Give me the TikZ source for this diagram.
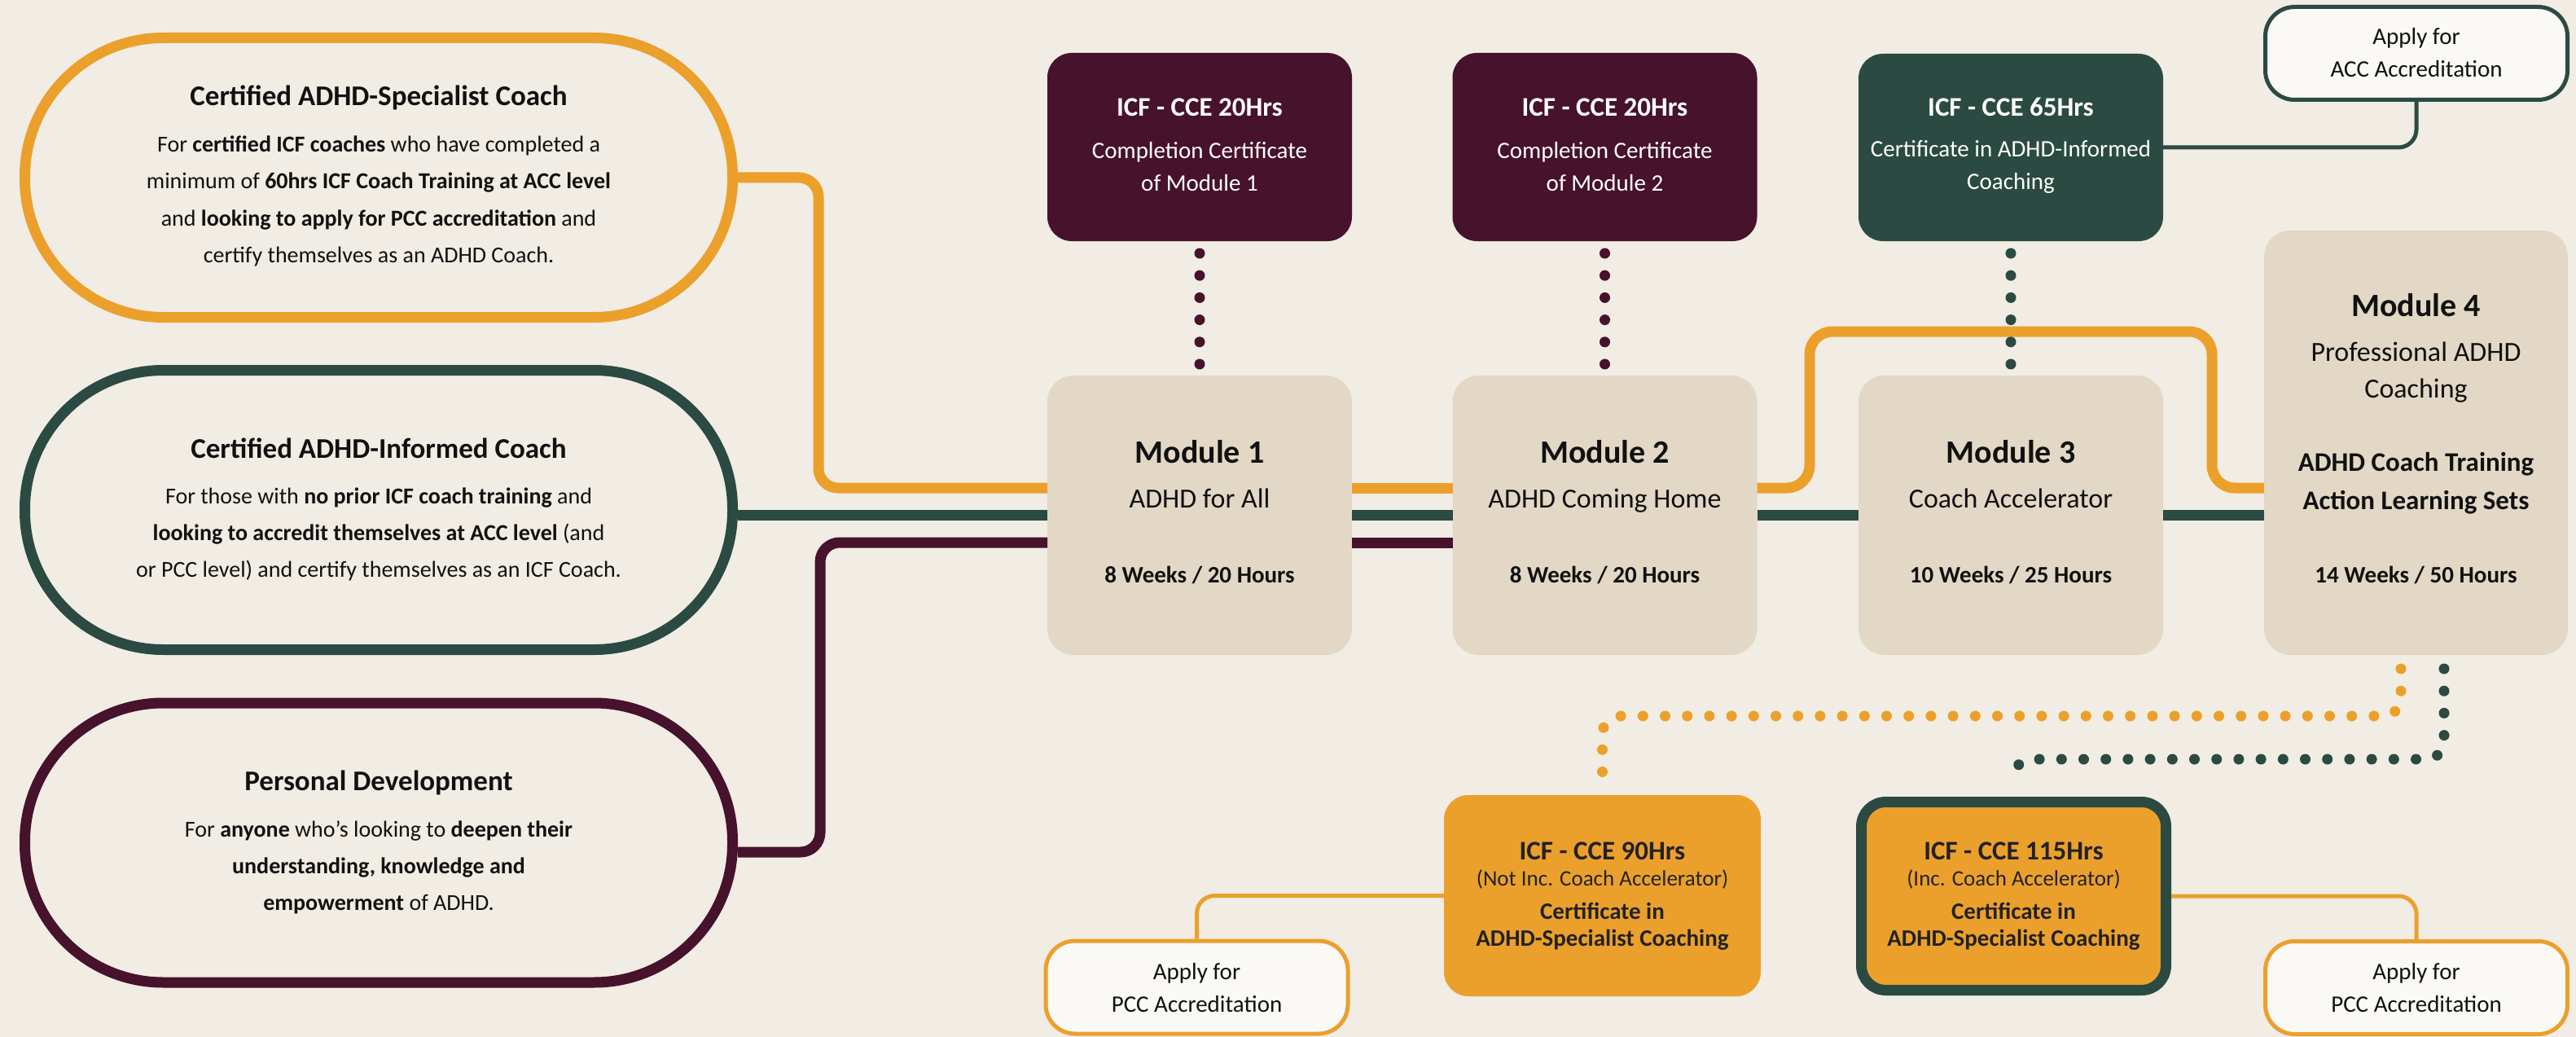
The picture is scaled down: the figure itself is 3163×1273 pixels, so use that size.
\documentclass[tikz,border=0pt]{standalone}
\usepackage{fontspec}
\setmainfont{Carlito}
\usetikzlibrary{calc}
\definecolor{bgc}{HTML}{F1ECE4}
\definecolor{org}{HTML}{EBA02C}
\definecolor{grn}{HTML}{2B4A42}
\definecolor{mar}{HTML}{47122B}
\definecolor{modc}{HTML}{E2D8C5}
\definecolor{wht}{HTML}{FAF9F6}
\definecolor{txt}{HTML}{111111}
\definecolor{otxt}{HTML}{222222}
\begin{document}
\begin{tikzpicture}[x=1pt,y=-1pt,
  pill/.style={draw=#1, line width=13pt, fill=bgc, rounded corners=170pt, minimum width=869pt, minimum height=343pt, inner sep=0pt},
  modbox/.style={fill=modc, rounded corners=32pt, minimum width=374pt, minimum height=343pt, inner sep=0pt, outer sep=0pt},
  certbox/.style={fill=#1, rounded corners=30pt, minimum width=374pt, minimum height=231pt, inner sep=0pt, outer sep=0pt},
  wbox/.style={draw=#1, line width=5pt, fill=wht, rounded corners=36pt, minimum width=371pt, minimum height=114pt, inner sep=0pt},
  rail/.style={draw=#1, line width=13pt},
  link/.style={draw=#1, line width=5pt, rounded corners=22pt},
  dotline/.style={draw=#1, line width=13pt, line cap=round, dash pattern=on 0pt off 27.2pt},
  lbl/.style={anchor=base, inner sep=0pt},
  ptitle/.style={lbl, text=txt, font=\fontsize{35pt}{40pt}\selectfont\bfseries},
  pbody/.style={lbl, text=txt, font=\fontsize{28pt}{34pt}\selectfont},
  ctitle/.style={lbl, text=white, font=\fontsize{33pt}{38pt}\selectfont\bfseries},
  cbody/.style={lbl, text=white, font=\fontsize{29pt}{34pt}\selectfont},
  mtitle/.style={lbl, text=txt, font=\fontsize{40pt}{46pt}\selectfont\bfseries},
  msub/.style={lbl, text=txt, font=\fontsize{34pt}{40pt}\selectfont},
  mbold/.style={lbl, text=txt, font=\fontsize{33pt}{38pt}\selectfont\bfseries},
  mdur/.style={lbl, text=txt, font=\fontsize{29pt}{34pt}\selectfont\bfseries},
  otitle/.style={lbl, text=otxt, font=\fontsize{33pt}{38pt}\selectfont\bfseries},
  osub/.style={lbl, text=otxt, font=\fontsize{27pt}{32pt}\selectfont},
  obold/.style={lbl, text=otxt, font=\fontsize{29pt}{34pt}\selectfont\bfseries},
  wtext/.style={lbl, text=txt, font=\fontsize{29pt}{34pt}\selectfont}
]
\useasboundingbox (0,0) rectangle (3163,1273);
\fill[bgc] (0,0) rectangle (3163,1273);

% rail levels
\coordinate (yo) at (0,599);
\coordinate (yg) at (0,632);
\coordinate (ym) at (0,666);

% left pills
\node[pill=org] (p1) at (465,218) {};
\node[pill=grn] (p2) at (465,626) {};
\node[pill=mar] (p3) at (465,1034.5) {};

% modules
\node[modbox] (m1) at (1473,632.5) {};
\node[modbox] (m2) at (1970.5,632.5) {};
\node[modbox] (m3) at (2469,632.5) {};
\node[modbox, minimum width=373pt, minimum height=521pt] (m4) at (2966.5,543.5) {};

% top certificates
\node[certbox=mar] (c1) at (1473,180.5) {};
\node[certbox=mar] (c2) at (1970.5,180.5) {};
\node[certbox=grn, minimum height=230pt] (c3) at (2469,181) {};
\node[wbox=grn] (acc) at (2967,65.5) {};

% bottom certificates
\node[certbox=org, minimum width=389pt, minimum height=247pt] (c90) at (1967.5,1099.5) {};
\node[draw=grn, line width=13pt, fill=org, rounded corners=30pt, minimum width=374pt, minimum height=231pt, inner sep=0pt] (c115) at (2472.5,1100) {};
\node[wbox=org] (pcc1) at (1469.5,1212) {};
\node[wbox=org] (pcc2) at (2967,1212.5) {};

% orange route
\coordinate (ok1) at (1005,599);
\draw[rail=org, rounded corners=24pt] (p1.east) -| (ok1) -- (m1.west |- yo);
\draw[rail=org] (m1.east |- yo) -- (m2.west |- yo);
\coordinate (ok2) at (2222,407);
\coordinate (ok3) at (2716,407);
\draw[rail=org, rounded corners=28pt] (m2.east |- yo) -| (ok2) -- (ok3) |- (m4.west |- yo);

% green route
\draw[rail=grn] (p2.east |- yg) -- (m1.west |- yg);
\draw[rail=grn] (m1.east |- yg) -- (m2.west |- yg);
\draw[rail=grn] (m2.east |- yg) -- (m3.west |- yg);
\draw[rail=grn] (m3.east |- yg) -- (m4.west |- yg);

% maroon route
\coordinate (mk) at (1007,1046);
\draw[rail=mar, rounded corners=24pt] (p3.east |- mk) -- (mk) |- (m1.west |- ym);
\draw[rail=mar] (m1.east |- ym) -- (m2.west |- ym);

% dotted certificate links
\draw[dotline=mar] ($(c1.south)+(0,15)$) -- ($(m1.north)+(0,-14)$);
\draw[dotline=mar] ($(c2.south)+(0,15)$) -- ($(m2.north)+(0,-14)$);
\draw[dotline=grn] ($(c3.south)+(0,15)$) -- ($(m3.north)+(0,-14)$);

\coordinate (oa) at ($(m4.south)+(-18.5,17)$);
\coordinate (ob) at ($(m4.south)+(-18.5,75)$);
\draw[dotline=org, rounded corners=22pt] (oa) -- (ob) -- (ob -| c90.north) -- ($(c90.north)+(0,-10)$);
\coordinate (ga) at ($(m4.south)+(34.5,17)$);
\coordinate (gb) at ($(m4.south)+(34.5,128)$);
\draw[dotline=grn, rounded corners=22pt] (ga) -- (gb) -- (gb -| c115.north) -- ($(c115.north)+(0,-15)$);

% thin links
\draw[link=grn] (c3.east) -| (acc.south);
\draw[link=org] (c90.west) -| (pcc1.north);
\draw[link=org] (c115.east) -| (pcc2.north);

% pill texts
\node[ptitle] (p1t) at (465,130) {Certified ADHD-Specialist Coach};
\node[pbody] (p1a) at (465,187) {For \textbf{certified ICF coaches} who have completed a};
\node[pbody] (p1b) at (465,232) {minimum of \textbf{60hrs ICF Coach Training at ACC level}};
\node[pbody] (p1c) at (465,277) {and \textbf{looking to apply for PCC accreditation} and};
\node[pbody] (p1d) at (465,322) {certify themselves as an ADHD Coach.};

\node[ptitle] (p2t) at (465,562) {Certified ADHD-Informed Coach};
\node[pbody] (p2a) at (465,618) {For those with \textbf{no prior ICF coach training} and};
\node[pbody] (p2b) at (465,663) {\textbf{looking to accredit themselves at ACC level} (and};
\node[pbody] (p2c) at (465,708) {or PCC level) and certify themselves as an ICF Coach.};

\node[ptitle] (p3t) at (465,970) {Personal Development};
\node[pbody] (p3a) at (465,1027) {For \textbf{anyone} who’s looking to \textbf{deepen their}};
\node[pbody] (p3b) at (465,1072) {\textbf{understanding, knowledge and}};
\node[pbody] (p3c) at (465,1117) {\textbf{empowerment} of ADHD.};

% top certificate texts
\node[ctitle] (c1t) at (1473,143) {ICF - CCE 20Hrs};
\node[cbody] (c1a) at (1473,195) {Completion Certificate};
\node[cbody] (c1b) at (1473,235) {of Module 1};
\node[ctitle] (c2t) at (1970.5,143) {ICF - CCE 20Hrs};
\node[cbody] (c2a) at (1970.5,195) {Completion Certificate};
\node[cbody] (c2b) at (1970.5,235) {of Module 2};
\node[ctitle] (c3t) at (2469,143) {ICF - CCE 65Hrs};
\node[cbody] (c3a) at (2469,193) {Certificate in ADHD-Informed};
\node[cbody] (c3b) at (2469,233) {Coaching};
\node[wtext] (acca) at (2967,55) {Apply for};
\node[wtext] (accb) at (2967,95) {ACC Accreditation};

% module texts
\node[mtitle] (m1t) at (1473,568) {Module 1};
\node[msub] (m1s) at (1473,623) {ADHD for All};
\node[mdur] (m1d) at (1473,715) {8 Weeks / 20 Hours};
\node[mtitle] (m2t) at (1970.5,568) {Module 2};
\node[msub] (m2s) at (1970.5,623) {ADHD Coming Home};
\node[mdur] (m2d) at (1970.5,715) {8 Weeks / 20 Hours};
\node[mtitle] (m3t) at (2469,568) {Module 3};
\node[msub] (m3s) at (2469,623) {Coach Accelerator};
\node[mdur] (m3d) at (2469,715) {10 Weeks / 25 Hours};
\node[mtitle] (m4t) at (2966.5,388) {Module 4};
\node[msub] (m4s) at (2966.5,443) {Professional ADHD};
\node[msub] (m4u) at (2966.5,488) {Coaching};
\node[mbold] (m4a) at (2966.5,578) {ADHD Coach Training};
\node[mbold] (m4b) at (2966.5,625) {Action Learning Sets};
\node[mdur] (m4d) at (2966.5,715) {14 Weeks / 50 Hours};

% bottom certificate texts
\node[otitle] (c90t) at (1967.5,1055) {ICF - CCE 90Hrs};
\node[osub] (c90s) at (1967.5,1087) {(Not Inc. Coach Accelerator)};
\node[obold] (c90a) at (1967.5,1128) {Certificate in};
\node[obold] (c90b) at (1967.5,1161) {ADHD-Specialist Coaching};
\node[otitle] (c115t) at (2472.5,1055) {ICF - CCE 115Hrs};
\node[osub] (c115s) at (2472.5,1087) {(Inc. Coach Accelerator)};
\node[obold] (c115a) at (2472.5,1128) {Certificate in};
\node[obold] (c115b) at (2472.5,1161) {ADHD-Specialist Coaching};
\node[wtext] (pcc1a) at (1469.5,1202) {Apply for};
\node[wtext] (pcc1b) at (1469.5,1242) {PCC Accreditation};
\node[wtext] (pcc2a) at (2967,1202) {Apply for};
\node[wtext] (pcc2b) at (2967,1242) {PCC Accreditation};
\end{tikzpicture}
\end{document}
